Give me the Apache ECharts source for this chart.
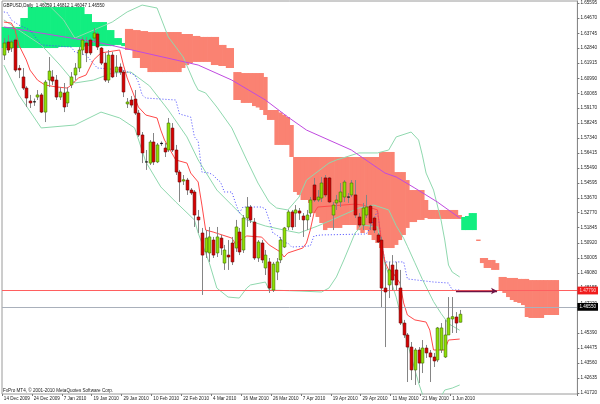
<!DOCTYPE html>
<html><head><meta charset="utf-8">
<script src="https://cdn.jsdelivr.net/npm/echarts@6/dist/echarts.min.js"></script>
<style>html,body{margin:0;padding:0;background:#fff}#c{width:600px;height:404px}</style>
</head><body><div id="c"></div>
<script>
// ---------- DATA ----------
const symbolTitle = 'GBPUSD,Daily';
const lastBarText = ['1.46059', '1.46812', '1.46047', '1.46550'];
const footerText = 'FxPro MT4, \u00a9 2001-2010 MetaQuotes Software Corp.';
const xTickLabels = ['14 Dec 2009','24 Dec 2009','7 Jan 2010','19 Jan 2010','29 Jan 2010','10 Feb 2010','22 Feb 2010','4 Mar 2010','16 Mar 2010','26 Mar 2010','7 Apr 2010','19 Apr 2010','29 Apr 2010','11 May 2010','21 May 2010','1 Jun 2010'];
const barsPerXLabel = 8;
const slotCount = 154;
const yTickLabels = ['1.65595','1.64670','1.63745','1.62840','1.61915','1.60990','1.60065','1.59170','1.58245','1.57340','1.56415','1.55490','1.54595','1.53670','1.52770','1.51845','1.50920','1.50005','1.49080','1.48155','1.47220','1.45390','1.44475','1.43560','1.42635','1.41720'];
const yMin = 1.41667, yMax = 1.65719;

// candles: [open, high, low, close]
const candles = [
[1.6241,1.6345,1.6211,1.6315],[1.6321,1.6364,1.6254,1.6272],[1.6284,1.6333,1.6260,1.6321],[1.6333,1.6345,1.6137,1.6149],
[1.6160,1.6180,1.6100,1.6150],[1.6107,1.6162,1.6027,1.6039],[1.6039,1.6050,1.5923,1.5978],[1.5960,1.5997,1.5917,1.5948],
[1.5955,1.5975,1.5930,1.5948],[1.5984,1.6027,1.5966,1.5997],[1.5997,1.6009,1.5886,1.5892],[1.5892,1.6088,1.5831,1.6076],
[1.6088,1.6229,1.6045,1.6143],[1.6107,1.6149,1.6058,1.6082],[1.6088,1.6119,1.5966,1.5984],[1.5984,1.6045,1.5966,1.6015],
[1.6009,1.6070,1.5892,1.5923],[1.5948,1.6045,1.5923,1.6015],[1.6058,1.6137,1.6039,1.6107],[1.6119,1.6192,1.6088,1.6162],
[1.6162,1.6290,1.6137,1.6272],[1.6272,1.6352,1.6241,1.6333],[1.6315,1.6352,1.6198,1.6254],[1.6333,1.6345,1.6241,1.6254],
[1.6345,1.6407,1.6321,1.6376],[1.6370,1.6382,1.6272,1.6290],[1.6284,1.6290,1.6180,1.6192],[1.6192,1.6254,1.6076,1.6088],
[1.6088,1.6272,1.6070,1.6241],[1.6241,1.6260,1.6100,1.6107],[1.6137,1.6241,1.6107,1.6168],[1.6168,1.6190,1.6120,1.6137],
[1.6137,1.6149,1.5984,1.6015],[1.5942,1.5978,1.5917,1.5954],[1.5966,1.5990,1.5920,1.5935],[1.5972,1.6027,1.5874,1.5886],
[1.5886,1.5905,1.5740,1.5752],[1.5752,1.5770,1.5580,1.5642],[1.5587,1.5660,1.5538,1.5580],[1.5580,1.5721,1.5568,1.5709],
[1.5709,1.5764,1.5568,1.5587],[1.5587,1.5703,1.5580,1.5691],[1.5700,1.5712,1.5685,1.5697],[1.5672,1.5703,1.5617,1.5648],
[1.5660,1.5856,1.5648,1.5825],[1.5794,1.5825,1.5648,1.5660],[1.5660,1.5691,1.5507,1.5525],[1.5525,1.5538,1.5342,1.5464],
[1.5470,1.5507,1.5446,1.5478],[1.5476,1.5489,1.5385,1.5415],[1.5415,1.5427,1.5385,1.5397],[1.5403,1.5415,1.5189,1.5262],
[1.5250,1.5293,1.5152,1.5232],[1.5152,1.5183,1.4773,1.5017],[1.5036,1.5170,1.4999,1.5121],[1.5030,1.5189,1.4975,1.5128],
[1.5109,1.5128,1.4999,1.5017],[1.5030,1.5189,1.5005,1.5128],[1.5121,1.5140,1.5017,1.5060],[1.4968,1.5079,1.4926,1.5048],
[1.5017,1.5109,1.4926,1.5005],[1.5091,1.5128,1.4956,1.4975],[1.5060,1.5232,1.5036,1.5189],[1.5158,1.5183,1.5017,1.5036],
[1.5048,1.5262,1.5030,1.5244],[1.5244,1.5372,1.5189,1.5311],[1.5311,1.5323,1.5213,1.5232],[1.5219,1.5244,1.4987,1.4999],
[1.4999,1.5109,1.4975,1.5097],[1.5091,1.5109,1.4968,1.4987],[1.4938,1.5048,1.4895,1.5017],[1.4975,1.4999,1.4785,1.4815],
[1.4803,1.4975,1.4791,1.4962],[1.4913,1.4999,1.4864,1.4975],[1.4987,1.5128,1.4968,1.5109],[1.5066,1.5189,1.5060,1.5183],
[1.5189,1.5293,1.5170,1.5281],[1.5281,1.5293,1.5170,1.5189],[1.5274,1.5323,1.5189,1.5293],[1.5287,1.5305,1.5232,1.5274],
[1.5256,1.5274,1.5128,1.5232],[1.5232,1.5293,1.5170,1.5262],[1.5274,1.5372,1.5250,1.5354],[1.5446,1.5489,1.5342,1.5354],
[1.5354,1.5415,1.5342,1.5372],[1.5366,1.5495,1.5342,1.5458],[1.5489,1.5507,1.5372,1.5385],[1.5489,1.5495,1.5336,1.5342],
[1.5262,1.5342,1.5170,1.5323],[1.5336,1.5385,1.5293,1.5354],[1.5342,1.5458,1.5311,1.5403],[1.5372,1.5476,1.5342,1.5464],
[1.5372,1.5397,1.5336,1.5366],[1.5385,1.5476,1.5372,1.5458],[1.5385,1.5476,1.5244,1.5262],[1.5250,1.5274,1.5189,1.5201],
[1.5201,1.5336,1.5170,1.5305],[1.5262,1.5385,1.5244,1.5311],[1.5317,1.5323,1.5170,1.5213],[1.5244,1.5250,1.5152,1.5170],
[1.5140,1.5152,1.5091,1.5097],[1.5109,1.5128,1.4699,1.4815],[1.4815,1.4975,1.4454,1.4791],[1.4834,1.4975,1.4754,1.4926],
[1.4956,1.5017,1.4803,1.4864],[1.4926,1.4975,1.4803,1.4834],[1.4815,1.4926,1.4589,1.4601],[1.4601,1.4620,1.4510,1.4528],
[1.4528,1.4540,1.4240,1.4454],[1.4454,1.4485,1.4252,1.4314],[1.4314,1.4448,1.4222,1.4436],[1.4436,1.4454,1.4234,1.4356],
[1.4356,1.4497,1.4295,1.4448],[1.4448,1.4467,1.4387,1.4418],[1.4418,1.4436,1.4240,1.4393],[1.4393,1.4418,1.4332,1.4369],
[1.4375,1.4577,1.4362,1.4571],[1.4436,1.4601,1.4418,1.4571],[1.4393,1.4620,1.4387,1.4528],[1.4528,1.4760,1.4528,1.4632],
[1.4626,1.4760,1.4540,1.4640],[1.4638,1.4668,1.4540,1.4601],[1.4606,1.4681,1.4605,1.4655]
];

// Ichimoku Senkou spans (cloud), bar 0..148
const senkouA = [
1.6413,1.6413,1.6413,1.6413,1.6413,1.6468,1.6468,1.6535,1.6535,1.6535,1.6535,1.6535,1.6535,1.6535,1.6535,1.6535,
1.6535,1.6535,1.6535,1.6535,1.6535,1.6535,1.6492,1.6492,1.6443,1.6443,1.6443,1.6443,1.6394,1.6394,1.6345,1.6345,
1.6315,1.6272,1.6272,1.6223,1.6223,1.6162,1.6162,1.6137,1.6137,1.6137,1.6137,1.6137,1.6137,1.6137,1.6137,1.6137,
1.6162,1.6180,1.6192,1.6199,1.6199,1.6199,1.6199,1.6199,1.6180,1.6180,1.6174,1.6174,1.6162,1.6162,1.5966,1.5966,
1.5948,1.5948,1.5948,1.5929,1.5920,1.5905,1.5874,1.5844,1.5844,1.5691,1.5691,1.5691,1.5691,1.5617,1.5403,1.5385,
1.5354,1.5354,1.5336,1.5274,1.5250,1.5213,1.5170,1.5183,1.5183,1.5183,1.5183,1.5201,1.5201,1.5201,1.5201,1.5170,
1.5152,1.5170,1.5140,1.5109,1.5091,1.5060,1.5060,1.5060,1.5060,1.5079,1.5109,1.5140,1.5183,1.5219,1.5219,1.5232,
1.5232,1.5244,1.5238,1.5238,1.5238,1.5238,1.5238,1.5238,1.5238,1.5238,1.5238,1.5250,1.5256,1.5274,1.5274,1.5103,
1.4968,1.4938,1.4938,1.4926,1.4926,1.4803,1.4785,1.4760,1.4742,1.4730,1.4724,1.4711,1.4638,1.4632,1.4632,1.4632,
1.4632,1.4650,1.4650,1.4650,1.4650
];
const senkouB = [
1.6284,1.6284,1.6284,1.6284,1.6284,1.6284,1.6284,1.6284,1.6284,1.6284,1.6284,1.6284,1.6284,1.6284,1.6284,1.6290,
1.6290,1.6290,1.6290,1.6290,1.6290,1.6290,1.6296,1.6296,1.6296,1.6296,1.6296,1.6296,1.6296,1.6296,1.6303,1.6303,
1.6296,1.6401,1.6401,1.6394,1.6394,1.6388,1.6388,1.6382,1.6382,1.6382,1.6382,1.6382,1.6382,1.6382,1.6382,1.6382,
1.6370,1.6370,1.6370,1.6358,1.6358,1.6352,1.6352,1.6352,1.6352,1.6352,1.6303,1.6303,1.6284,1.6284,1.6137,1.6137,
1.6131,1.6131,1.6131,1.6131,1.6131,1.6131,1.6107,1.5905,1.5905,1.5905,1.5890,1.5875,1.5862,1.5813,1.5617,1.5617,
1.5617,1.5617,1.5617,1.5617,1.5617,1.5617,1.5617,1.5617,1.5617,1.5617,1.5617,1.5617,1.5617,1.5617,1.5617,1.5617,
1.5617,1.5617,1.5617,1.5617,1.5617,1.5648,1.5648,1.5648,1.5648,1.5525,1.5525,1.5525,1.5476,1.5415,1.5415,1.5415,
1.5415,1.5354,1.5293,1.5293,1.5293,1.5293,1.5293,1.5293,1.5293,1.5293,1.5262,1.5170,1.5170,1.5170,1.5170,1.5112,
1.4999,1.4999,1.4987,1.4987,1.4968,1.4883,1.4883,1.4877,1.4877,1.4877,1.4871,1.4871,1.4871,1.4864,1.4864,1.4864,
1.4864,1.4864,1.4864,1.4864,1.4864
];

// indicator lines as [barIndex, price]
const tenkan = [[0,1.6443],[2,1.6437],[3,1.6394],[4,1.6303],[6,1.6211],[7,1.6149],[9,1.6088],[11,1.6058],[14,1.6046],[17,1.6039],[18,1.6058],[20,1.6101],[22,1.6119],[24,1.6211],[26,1.6254],[31,1.6272],[32,1.6180],[33,1.6101],[35,1.5984],[36,1.5923],[38,1.5874],[41,1.5856],[42,1.5782],[43,1.5721],[46,1.5599],[49,1.5580],[50,1.5519],[52,1.5464],[53,1.5323],[54,1.5170],[56,1.5158],[61,1.5121],[62,1.5085],[65,1.5134],[69,1.5127],[71,1.5079],[74,1.5036],[75,1.5005],[76,1.5030],[80,1.5060],[81,1.5091],[82,1.5170],[83,1.5274],[84,1.5311],[94,1.5329],[96,1.5323],[100,1.5293],[101,1.5109],[102,1.4975],[103,1.4926],[104,1.4913],[106,1.4846],[107,1.4724],[108,1.4650],[110,1.4620],[113,1.4607],[114,1.4558],[115,1.4436],[118,1.4436],[119,1.4497],[122,1.4503]];
const kijun = [[0,1.6505],[1,1.6499],[2,1.6456],[4,1.6425],[7,1.6394],[10,1.6303],[18,1.6290],[19,1.6260],[22,1.6241],[25,1.6162],[32,1.6149],[35,1.6119],[36,1.6076],[37,1.5997],[38,1.5978],[46,1.5966],[47,1.5880],[50,1.5862],[51,1.5740],[52,1.5715],[53,1.5525],[55,1.5519],[56,1.5507],[57,1.5482],[58,1.5464],[59,1.5403],[61,1.5403],[62,1.5336],[63,1.5274],[64,1.5311],[69,1.5311],[70,1.5299],[71,1.5232],[72,1.5152],[73,1.5140],[74,1.5121],[75,1.5091],[76,1.5091],[77,1.5066],[82,1.5073],[83,1.5134],[85,1.5140],[97,1.5146],[98,1.5183],[99,1.5238],[100,1.5287],[101,1.5109],[102,1.4975],[107,1.4975],[108,1.4871],[115,1.4852],[119,1.4846],[120,1.4803],[122,1.4803]];
const movingAvg = [[0,1.6413],[26,1.6315],[52,1.6180],[61,1.6088],[70,1.5966],[76,1.5862],[81,1.5782],[93,1.5660],[102,1.5519],[105,1.5495],[110,1.5427],[116,1.5342],[122,1.5244]];
const bbUpper = [[8,1.6610],[12,1.6547],[16,1.6456],[19,1.6345],[24,1.6394],[29,1.6443],[33,1.6505],[37,1.6547],[41,1.6529],[44,1.6352],[48,1.6229],[51,1.6070],[52,1.6027],[54,1.6009],[57,1.5923],[61,1.5795],[65,1.5599],[68,1.5458],[71,1.5342],[73,1.5305],[76,1.5293],[79,1.5372],[81,1.5476],[87,1.5580],[89,1.5599],[95,1.5642],[100,1.5642],[103,1.5660],[105,1.5740],[109,1.5770],[111,1.5721],[112,1.5629],[113,1.5519],[115,1.5415],[117,1.5232],[118,1.5109],[119,1.4956],[120,1.4913],[122,1.4883]];
const bbMiddle = [[0,1.6456],[4,1.6394],[10,1.6303],[15,1.6180],[19,1.6070],[24,1.6088],[29,1.6131],[34,1.6137],[39,1.6052],[44,1.5905],[49,1.5740],[52,1.5599],[57,1.5415],[61,1.5323],[65,1.5232],[70,1.5195],[75,1.5170],[79,1.5152],[84,1.5195],[89,1.5244],[95,1.5305],[99,1.5323],[103,1.5293],[105,1.5197],[107,1.5120],[108,1.5071],[110,1.4970],[112,1.4869],[115,1.4732],[117,1.4660],[119,1.4597],[122,1.4557]];
const bbLower = [[0,1.6180],[4,1.5997],[10,1.5795],[19,1.5813],[26,1.5892],[31,1.5856],[35,1.5795],[38,1.5587],[42,1.5434],[46,1.5342],[51,1.5232],[52,1.5152],[55,1.4968],[57,1.4815],[60,1.4760],[63,1.4754],[65,1.4815],[66,1.4834],[70,1.4852],[71,1.4803],[79,1.4797],[85,1.4791],[87,1.4815],[89,1.4883],[91,1.4987],[94,1.5152],[96,1.5201],[100,1.5189],[101,1.5080],[102,1.4960],[103,1.4900],[105,1.4760],[108,1.4479],[111,1.4234],[113,1.4100],[116,1.4112],[118,1.4191],[120,1.4203],[122,1.4222]];

const supportLevel = { value: 1.4779, text: '1.47790' };
const lastPrice = { value: 1.4655, text: '1.46550' };
const arrowStart = [121, 1.4797], arrowEnd = [132, 1.4797];

// ---------- CHART ----------
const FONT = 'Liberation Sans';
const categories = Array.from({ length: slotCount }, (_, i) => String(i));
const cloudData = senkouA.map((a, i) => [i, a, senkouB[i]]);
const candleData = candles.map((c, i) => [i, c[0], c[1], c[2], c[3]]);
const showX = (idx) => idx % barsPerXLabel === 0 && idx / barsPerXLabel < xTickLabels.length;

const chart = echarts.init(document.getElementById('c'), null, { renderer: 'canvas' });
chart.setOption({
  animation: false,
  backgroundColor: '#ffffff',
  textStyle: { fontFamily: FONT },
  grid: { left: 2, right: 18, top: 1, bottom: 10, show: true, borderColor: '#9a9a9a', borderWidth: 1, containLabel: false },
  xAxis: {
    type: 'category', data: categories, boundaryGap: true,
    axisLine: { show: false },
    axisTick: { show: true, interval: showX, length: 2, lineStyle: { color: '#777' } },
    axisLabel: { interval: showX, formatter: (v) => xTickLabels[Math.round(Number(v) / barsPerXLabel)], fontSize: 4.6, color: '#222', align: 'left', margin: 2, fontFamily: FONT },
    splitLine: { show: false }
  },
  yAxis: {
    type: 'value', position: 'right', min: yMin, max: yMax, scale: true,
    axisLine: { show: true, lineStyle: { color: '#888' } },
    axisTick: { show: true, length: 2, customValues: yTickLabels.map(Number), lineStyle: { color: '#777' } },
    axisLabel: { customValues: yTickLabels.map(Number), formatter: (v) => Number(v).toFixed(5), fontSize: 4.6, color: '#222', margin: 3, fontFamily: FONT },
    splitLine: { show: false }
  },
  graphic: [
    { type: 'text', left: 3, top: 3, z: 100, style: { text: symbolTitle + '  ' + lastBarText.join(' '), font: '4.5px ' + FONT, fill: '#111' } },
    { type: 'text', left: 3, top: 388.5, z: 100, style: { text: footerText, font: '4.6px ' + FONT, fill: '#222' } }
  ],
  series: [
    { type: 'custom', z: 1, silent: true, data: cloudData, encode: { x: 0, y: [1, 2] },
      renderItem: (params, api) => {
        const i = api.value(0), a = api.value(1), b = api.value(2);
        const pa = api.coord([i, a]), pb = api.coord([i, b]);
        const slot = api.size([1, 0])[0];
        const top = Math.min(pa[1], pb[1]);
        return { type: 'rect',
          shape: { x: pa[0] - slot / 2 - 0.35, y: top, width: slot + 0.7, height: Math.max(Math.abs(pa[1] - pb[1]), 1) },
          style: { fill: a >= b ? '#12ee80' : '#fa8272' } };
      } },
    { type: 'line', data: bbUpper, symbol: 'none', z: 3, lineStyle: { color: '#8fd8ae', width: 1 } },
    { type: 'line', data: bbMiddle, symbol: 'none', z: 3, lineStyle: { color: '#8fd8ae', width: 1 } },
    { type: 'line', data: bbLower, symbol: 'none', z: 3, lineStyle: { color: '#8fd8ae', width: 1 } },
    { type: 'line', data: movingAvg, symbol: 'none', z: 3, lineStyle: { color: '#c04ae0', width: 1 } },
    { type: 'line', data: kijun, symbol: 'none', z: 3, lineStyle: { color: '#4848ff', width: 1, type: [1, 2] } },
    { type: 'line', data: tenkan, symbol: 'none', z: 3, lineStyle: { color: '#ff4a4a', width: 1 },
      markLine: {
        silent: true, symbol: ['none', 'none'], animation: false,
        data: [
          { yAxis: supportLevel.value, lineStyle: { color: '#ff5f5f', width: 1, type: 'solid' },
            label: { show: true, position: 'end', distance: 0, formatter: supportLevel.text, backgroundColor: '#f01c1c', color: '#ffd0d0', fontSize: 4.6, padding: [1.6, 2, 1.2, 2], fontFamily: FONT } },
          { yAxis: lastPrice.value, lineStyle: { color: '#a9b0bb', width: 1, type: 'solid' },
            label: { show: true, position: 'end', distance: 0, formatter: lastPrice.text, backgroundColor: '#000', color: '#fff', fontSize: 4.6, padding: [1.6, 2, 1.2, 2], fontFamily: FONT } },
          [ { coord: [String(arrowStart[0]), arrowStart[1]], symbol: 'none', lineStyle: { color: '#6e1444', width: 1.4, type: 'solid' }, label: { show: false } },
            { coord: [String(arrowEnd[0]), arrowEnd[1]], symbol: 'arrow', symbolSize: [5, 6] } ]
        ]
      } },
    { type: 'custom', z: 5, data: candleData, encode: { x: 0, y: [1, 2, 3, 4] },
      renderItem: (params, api) => {
        const i = api.value(0);
        const o = api.value(1), h = api.value(2), l = api.value(3), c = api.value(4);
        const po = api.coord([i, o]), pc = api.coord([i, c]);
        const ph = api.coord([i, h]), pl = api.coord([i, l]);
        const slot = api.size([1, 0])[0];
        const w = slot * 0.74;
        const x = Math.round(po[0]) + 0.5;
        const top = Math.min(po[1], pc[1]);
        const hgt = Math.abs(po[1] - pc[1]);
        const bull = c >= o;
        const kids = [{ type: 'line', shape: { x1: x, y1: ph[1], x2: x, y2: pl[1] }, style: { stroke: '#858585', lineWidth: 1 } }];
        if (hgt < 1.3) {
          kids.push({ type: 'line', shape: { x1: x - w / 2, y1: top, x2: x + w / 2, y2: top }, style: { stroke: '#111', lineWidth: 1.2 } });
        } else {
          kids.push({ type: 'rect', shape: { x: x - w / 2, y: top, width: w, height: hgt },
            style: { fill: bull ? '#8ee000' : '#d80000', stroke: bull ? '#416f00' : '#6a0000', lineWidth: 0.6 } });
        }
        return { type: 'group', children: kids };
      } }
  ]
});
</script></body></html>
